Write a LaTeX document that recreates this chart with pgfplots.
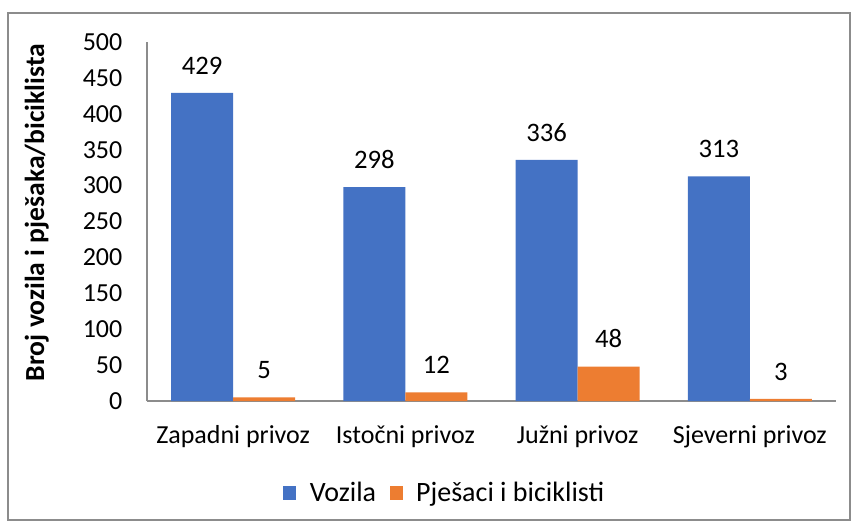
\documentclass[border=0pt]{standalone}
\usepackage{fontspec}
\setmainfont{Carlito}
\usepackage{pgfplots}
\pgfplotsset{compat=1.18}

\definecolor{vozila}{HTML}{4472C4}
\definecolor{pjesaci}{HTML}{ED7D31}
\definecolor{axisgray}{HTML}{8C8C8C}
\newcommand{\chartfont}{\fontsize{19.5pt}{23pt}\selectfont}

\begin{document}
\begin{tikzpicture}
% picture is 854x525 px, 1 px = 0.75pt, axis box corner at (147,401) px
\path[use as bounding box] (-110.25pt,-93pt) rectangle (530.25pt,300.75pt);
\draw[axisgray, line width=0.8pt] (-104.25pt,-89.25pt) rectangle (527.25pt,291pt);
\begin{axis}[
  at={(0pt,0pt)}, anchor=south west,
  scale only axis, width=516.75pt, height=269.25pt,
  ybar=0pt, bar width=0.36,
  xmin=-0.5, xmax=3.5, ymin=0, ymax=500,
  ytick={0,50,...,500},
  xtick=data,
  xticklabels={Zapadni privoz, Istočni privoz, Južni privoz, Sjeverni privoz},
  axis x line*=bottom, axis y line*=left,
  axis line style={axisgray, line width=1pt},
  major tick length=0pt,
  /pgf/number format/assume math mode=true,
  tick label style={font=\chartfont, black},
  yticklabel style={xshift=-15pt},
  xticklabel style={yshift=-15pt},
  ylabel={Broj vozila i pješaka/biciklista},
  ylabel style={at={(axis description cs:-0.16,0.525)}, anchor=center,
    font=\fontsize{20.7pt}{24pt}\selectfont\bfseries},
  nodes near coords,
  nodes near coords style={font=\fontsize{20pt}{24pt}\selectfont, black, anchor=base, yshift=14pt},
  legend columns=2,
  legend style={at={(axis description cs:0.4325,-0.256)}, anchor=center, draw=none,
    font=\fontsize{21pt}{25pt}\selectfont, column sep=8pt},
  legend image code/.code={\fill[#1] (0pt,-5pt) rectangle (10pt,5pt);},
]
\addplot[fill=vozila, draw=none] coordinates {(0,429) (1,298) (2,336) (3,313)};
\addlegendentry{Vozila}
\addplot[fill=pjesaci, draw=none] coordinates {(0,5) (1,12) (2,48) (3,3)};
\addlegendentry{Pješaci i biciklisti}
\end{axis}
\end{tikzpicture}
\end{document}
